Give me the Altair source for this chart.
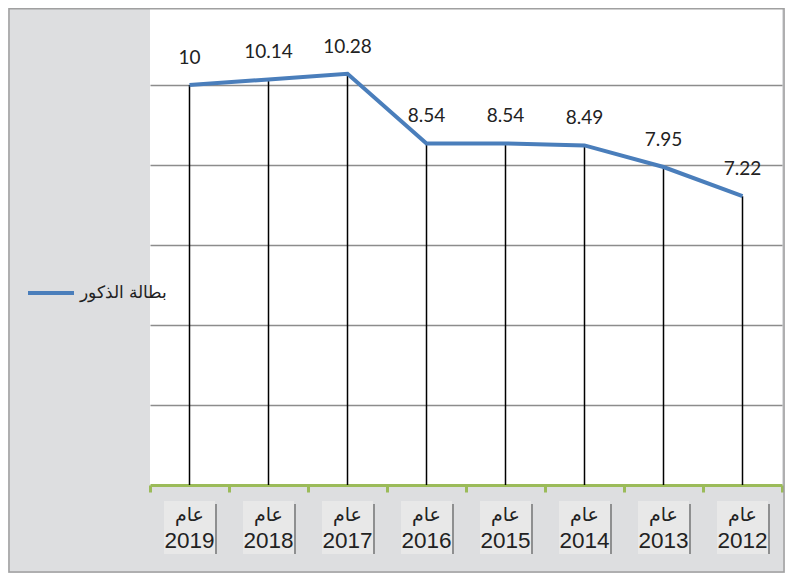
import altair as alt
import pandas as pd

years = ["2019", "2018", "2017", "2016", "2015", "2014", "2013", "2012"]
values = [10, 10.14, 10.28, 8.54, 8.54, 8.49, 7.95, 7.22]
value_labels = ["10", "10.14", "10.28", "8.54", "8.54", "8.49", "7.95", "7.22"]
series_name = "بطالة الذكور"
year_prefix = "عام"
grid_values = [2, 4, 6, 8, 10]

df = pd.DataFrame({
    "year": years,
    "value": values,
    "label": value_labels,
    "series": [series_name] * len(years),
    "prefix": [year_prefix] * len(years),
})

xscale = alt.Scale(paddingInner=0, paddingOuter=0)
x_axis = alt.X("year:N", sort=years, scale=xscale,
               axis=alt.Axis(title=None, labels=False, domainColor="#9bbb59", domainWidth=3,
                             tickColor="#9bbb59", tickWidth=3, tickSize=7, tickBand="extent",
                             grid=False))
x_plain = alt.X("year:N", sort=years)
yscale = alt.Scale(domain=[0, 11.925], nice=False, zero=True)
y_axis = alt.Y("value:Q", scale=yscale,
               axis=alt.Axis(title=None, labels=False, domain=False, ticks=False, grid=True,
                             values=grid_values, gridColor="#8c8c8c", gridWidth=1.5))
y_plain = alt.Y("value:Q")

base = alt.Chart(df)

drops = base.mark_rule(color="black", strokeWidth=1.5).encode(
    x=x_axis, y=y_axis, y2=alt.datum(0))

line = base.mark_line(strokeWidth=4).encode(
    x=x_plain, y=y_plain,
    color=alt.Color("series:N", scale=alt.Scale(range=["#4a7ebb"]),
                    legend=alt.Legend(title=None, orient="none", legendX=-124, legendY=260,
                                      symbolType="stroke", symbolSize=2116, symbolStrokeWidth=4,
                                      labelFontSize=16.5, labelFont="Arial", labelColor="#222222",
                                      labelOffset=4)))

labels = base.mark_text(dy=-27, fontSize=19, font="Lato", color="#222222").encode(
    x=x_plain, y=y_plain, text="label:N")

shadow = base.mark_bar(width=51, color="#5a5a5a", opacity=0.6, xOffset=2, yOffset=3).encode(
    x=x_plain, y=alt.value(493), y2=alt.value(546))
boxes = base.mark_bar(width=51, color="#e8e8e8").encode(
    x=x_plain, y=alt.value(493), y2=alt.value(546))
prefix_text = base.mark_text(fontSize=19, font="DejaVu Sans", color="#222222").encode(
    x=x_plain, y=alt.value(507), text="prefix:N")
year_text = base.mark_text(fontSize=22.5, font="Arial", color="#222222").encode(
    x=x_plain, y=alt.value(533), text="year:N")

border = alt.Chart(pd.DataFrame({"a": [0]})).mark_rect(
    fillOpacity=0, stroke="#a0a0a0", strokeWidth=1.5).encode(
    x=alt.value(-141), x2=alt.value(634), y=alt.value(0.75), y2=alt.value(564))

chart = alt.layer(drops, line, labels, shadow, boxes, prefix_text, year_text, border).properties(
    width=632, height=477,
    padding={"left": 142, "top": 0, "right": 3, "bottom": 88},
    autosize="none",
    background="#dddee0",
).configure_view(fill="white", stroke=None)

chart.save("out.html", embed_options={"renderer": "svg", "actions": False})
